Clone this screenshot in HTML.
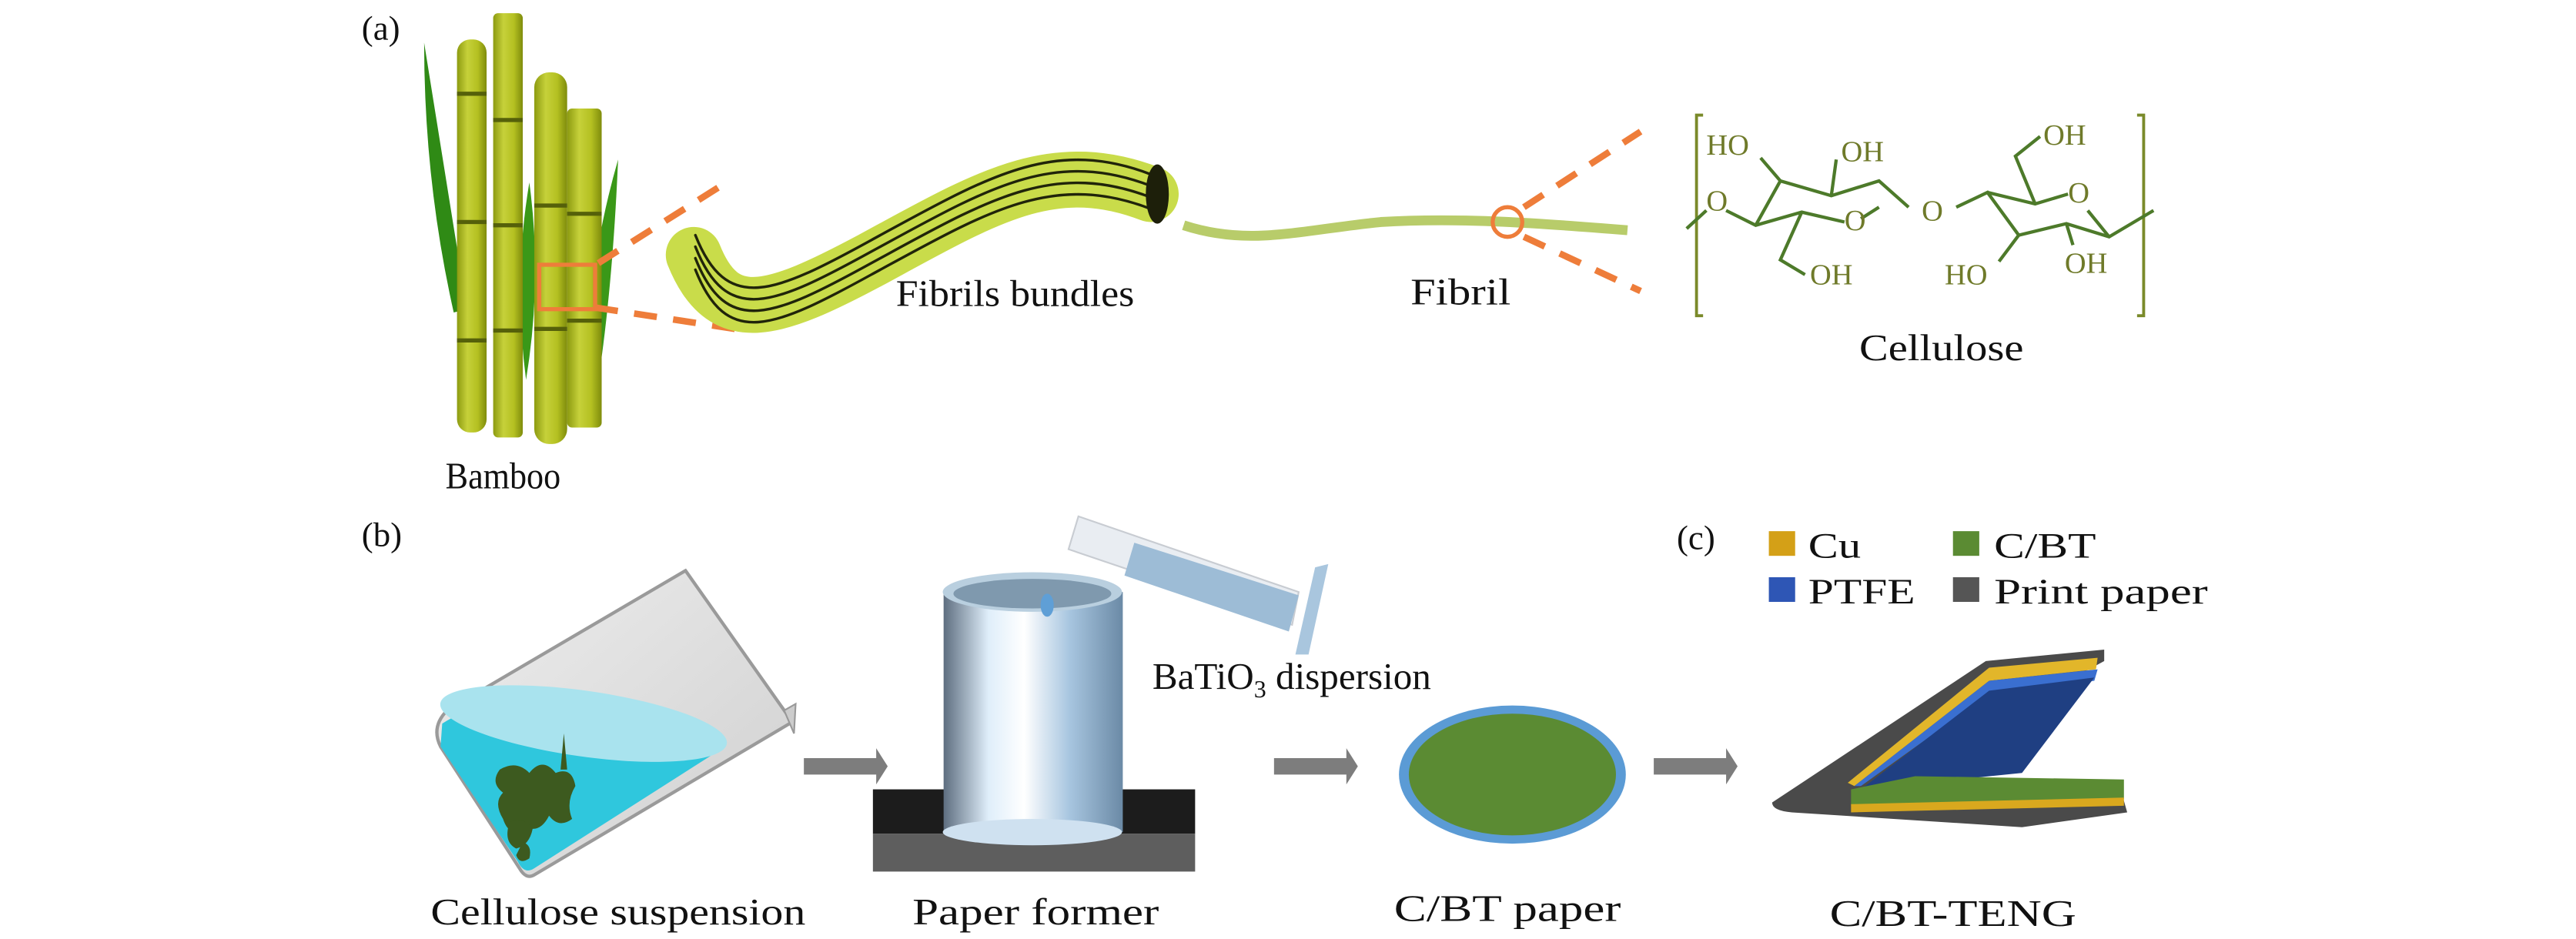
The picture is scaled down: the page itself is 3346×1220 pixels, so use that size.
<!DOCTYPE html>
<html><head><meta charset="utf-8"><style>
html,body{margin:0;padding:0;background:#fff;width:3346px;height:1220px;overflow:hidden}
svg{display:block}
text{font-family:"Liberation Serif",serif;fill:#111}
</style></head><body>
<svg width="3346" height="1220" viewBox="0 0 1567 571" preserveAspectRatio="none" xmlns="http://www.w3.org/2000/svg">
<defs>
<linearGradient id="stalk" x1="0" x2="1" y1="0" y2="0">
<stop offset="0" stop-color="#8c9a10"/><stop offset="0.35" stop-color="#c6d13a"/><stop offset="0.7" stop-color="#b4c021"/><stop offset="1" stop-color="#7f8c0c"/></linearGradient>
<linearGradient id="cyl" x1="0" x2="1"><stop offset="0" stop-color="#5e6e80"/><stop offset="0.25" stop-color="#dfeefa"/><stop offset="0.45" stop-color="#ffffff"/><stop offset="0.7" stop-color="#a8c6e0"/><stop offset="1" stop-color="#6b8aa6"/></linearGradient>
<linearGradient id="bk" x1="0" x2="1" y1="0" y2="1"><stop offset="0" stop-color="#eeeeee"/><stop offset="1" stop-color="#cfcfcf"/></linearGradient>
</defs>

<text x="220" y="24" font-size="21">(a)</text>
<path d="M258,26 L284,188 L276,190 Q258,110 258,26Z" fill="#2f8a15"/>
<path d="M376,97 Q372,190 360,255 Q352,180 376,97Z" fill="#3a9818"/>
<path d="M322,111 Q330,170 320,231 Q312,170 322,111Z" fill="#3a9818"/>
<rect x="278" y="24" width="18" height="239" rx="8" fill="url(#stalk)"/>
<rect x="300" y="8" width="18" height="258" rx="3" fill="url(#stalk)"/>
<rect x="325" y="44" width="20" height="226" rx="9" fill="url(#stalk)"/>
<rect x="345" y="66" width="21" height="194" rx="3" fill="url(#stalk)"/>
<g stroke="#55600a" stroke-width="2.5">
<line x1="278" y1="57" x2="296" y2="57"/><line x1="278" y1="135" x2="296" y2="135"/><line x1="278" y1="207" x2="296" y2="207"/>
<line x1="300" y1="73" x2="318" y2="73"/><line x1="300" y1="137" x2="318" y2="137"/><line x1="300" y1="201" x2="318" y2="201"/>
<line x1="325" y1="125" x2="345" y2="125"/><line x1="325" y1="200" x2="345" y2="200"/>
<line x1="345" y1="130" x2="366" y2="130"/><line x1="345" y1="195" x2="366" y2="195"/>
</g>
<rect x="328" y="161" width="34" height="27" fill="none" stroke="#ee7d3a" stroke-width="2.5"/>
<g stroke="#ee7d3a" stroke-width="4" stroke-dasharray="14,10" fill="none">
<path d="M364,160 L437,114"/><path d="M362,187 L447,200"/>
<path d="M927,126 L998,80"/><path d="M927,144 L998,177"/>
</g>
<g fill="none" stroke-linecap="round">
<path d="M422,155 C440,200 470,190 530,158 C600,120 640,95 700,118" stroke="#c9dc4a" stroke-width="34"/>
<path d="M423,150 C442,198 470,186 530,153 C600,115 640,90 700,113" stroke="#20240a" stroke-width="1.6"/>
<path d="M423,157 C442,205 470,193 530,160 C600,122 640,97 700,120" stroke="#20240a" stroke-width="1.6"/>
<path d="M423,164 C442,212 470,200 530,167 C600,129 640,104 700,127" stroke="#20240a" stroke-width="1.6"/>
<path d="M423,143 C442,191 470,179 530,146 C600,108 640,83 700,106" stroke="#20240a" stroke-width="1.6"/>
</g>
<ellipse cx="704" cy="118" rx="7" ry="18" fill="#1d1f0a"/>
<path d="M720,137 C760,150 790,140 840,135 C890,132 940,136 990,140" fill="none" stroke="#b8cc6a" stroke-width="6"/>
<circle cx="917" cy="135" r="9" fill="none" stroke="#ee7d3a" stroke-width="2.5"/>
<text x="545" y="186" font-size="23" textLength="145" lengthAdjust="spacingAndGlyphs">Fibrils bundles</text>
<text x="858" y="185" font-size="23" textLength="61" lengthAdjust="spacingAndGlyphs">Fibril</text>
<text x="271" y="297" font-size="23" textLength="70" lengthAdjust="spacingAndGlyphs">Bamboo</text>

<g fill="none" stroke="#7a8a2a" stroke-width="1.8">
<path d="M1036,70 L1032,70 L1032,192 L1036,192"/>
<path d="M1300,70 L1304,70 L1304,192 L1300,192"/>
</g>
<g fill="none" stroke="#4d7a2a" stroke-width="2">
<path d="M1026,139 L1038,128"/>
<path d="M1050,128 L1068,137 L1096,129 L1122,135"/>
<path d="M1068,137 L1083,110 L1114,119 L1143,110 L1161,126"/>
<path d="M1132,133 L1143,126"/>
<path d="M1083,110 L1071,96"/><path d="M1114,119 L1117,97"/>
<path d="M1096,129 L1083,158 L1098,167"/>
<path d="M1190,126 L1209,117 L1228,143 L1257,136 L1283,144 L1310,128"/>
<path d="M1209,117 L1238,124 L1258,118"/><path d="M1270,128 L1283,144"/>
<path d="M1238,124 L1226,95 L1241,83"/>
<path d="M1228,143 L1216,159"/><path d="M1257,136 L1261,149"/>
</g>
<g font-size="18">
<text x="1038" y="94" style="fill:#6f7a2a">HO</text>
<text x="1120" y="98" style="fill:#6f7a2a">OH</text>
<text x="1243" y="88" style="fill:#6f7a2a">OH</text>
<text x="1038" y="128" style="fill:#6f7a2a">O</text>
<text x="1122" y="140" style="fill:#6f7a2a">O</text>
<text x="1169" y="134" style="fill:#6f7a2a">O</text>
<text x="1258" y="123" style="fill:#6f7a2a">O</text>
<text x="1101" y="173" style="fill:#6f7a2a">OH</text>
<text x="1183" y="173" style="fill:#6f7a2a">HO</text>
<text x="1256" y="166" style="fill:#6f7a2a">OH</text>
</g>
<text x="1131" y="219" font-size="23" textLength="100" lengthAdjust="spacingAndGlyphs">Cellulose</text>

<text x="220" y="332" font-size="21">(b)</text>
<path d="M417,347 L482,439 L325,532 Q320,535 316,528 L268,454 Q262,442 272,432 Z" fill="url(#bk)" stroke="#9a9a9a" stroke-width="2"/>
<path d="M269,440 Q300,420 350,430 Q420,440 438,456 L325,528 Q319,532 315,524 L268,454 Z" fill="#2fc7dd"/>
<ellipse cx="355" cy="440" rx="88" ry="20" transform="rotate(8 355 440)" fill="#a9e3ee"/>
<path d="M477,432 L484,428 L483,446 Z" fill="#ccc" stroke="#999"/>
<g fill="#3d5a1f">
<path d="M304,468 q10,-6 18,2 q8,-10 16,0 q10,-4 12,8 q-6,10 -2,20 q-8,6 -14,-2 q-6,12 -16,6 q-8,8 -12,-4 q-6,-10 0,-16 q-8,-6 -2,-14z"/>
<path d="M310,500 q8,-4 14,4 q-2,10 -10,12 q-8,-4 -4,-16z"/>
<path d="M318,512 q6,2 4,10 q-6,4 -8,-2z"/>
<path d="M343,446 l2,22 l-4,0z"/>
</g>
<g fill="#7d7d7d">
<path d="M489,461 L533,461 L533,455 L540,466 L533,477 L533,471 L489,471Z"/>
<path d="M775,461 L819,461 L819,455 L826,466 L819,477 L819,471 L775,471Z"/>
<path d="M1006,461 L1050,461 L1050,455 L1057,466 L1050,477 L1050,471 L1006,471Z"/>
</g>
<rect x="531" y="480" width="196" height="27" fill="#1c1c1c"/>
<rect x="531" y="507" width="196" height="23" fill="#5e5e5e"/>
<rect x="574" y="360" width="109" height="146" fill="url(#cyl)"/>
<ellipse cx="628" cy="506" rx="54.5" ry="8" fill="#cfe1f0"/>
<ellipse cx="628" cy="360" rx="54.5" ry="12" fill="#b9cfdf"/>
<ellipse cx="628" cy="361" rx="48" ry="9" fill="#7f99ae"/>
<ellipse cx="637" cy="368" rx="4" ry="7" fill="#5f9fd6"/>
<path d="M656,314 L790,360 L786,380 L650,334 Z" fill="#e9edf2" stroke="#c8ccd2"/>
<path d="M690,330 L790,362 L784,384 L684,350 Z" fill="#9dbcd6"/>
<path d="M800,345 L808,343 L796,398 L788,398 Z" fill="#a9c6de"/>
<text x="701" y="419" font-size="23">BaTiO<tspan font-size="15" dy="5">3</tspan><tspan dy="-5"> dispersion</tspan></text>
<text x="262" y="562" font-size="23" textLength="228" lengthAdjust="spacingAndGlyphs">Cellulose suspension</text>
<text x="555" y="562" font-size="23" textLength="150" lengthAdjust="spacingAndGlyphs">Paper former</text>

<ellipse cx="920" cy="471" rx="69" ry="42" fill="#5b9bd5"/>
<ellipse cx="920" cy="471" rx="63" ry="37" fill="#5b8b33"/>
<text x="848" y="560" font-size="23" textLength="138" lengthAdjust="spacingAndGlyphs">C/BT paper</text>

<text x="1020" y="334" font-size="21">(c)</text>
<rect x="1076" y="323" width="16" height="15" fill="#d4a017"/>
<text x="1100" y="339" font-size="22" textLength="32" lengthAdjust="spacingAndGlyphs">Cu</text>
<rect x="1188" y="323" width="16" height="15" fill="#5b8b33"/>
<text x="1213" y="339" font-size="22" textLength="62" lengthAdjust="spacingAndGlyphs">C/BT</text>
<rect x="1076" y="351" width="16" height="15" fill="#2e56b5"/>
<text x="1100" y="367" font-size="22" textLength="65" lengthAdjust="spacingAndGlyphs">PTFE</text>
<rect x="1188" y="351" width="16" height="15" fill="#555"/>
<text x="1213" y="367" font-size="22" textLength="130" lengthAdjust="spacingAndGlyphs">Print paper</text>

<path d="M1078,488 L1208,402 L1280,395 L1280,402 L1140,478 L1290,480 L1294,494 L1230,503 L1090,494 Q1078,493 1078,488Z" fill="#4a4a4a"/>
<path d="M1210,406 L1276,400 L1275,407 L1210,414 L1128,478 L1124,476Z" fill="#e2b62a"/>
<path d="M1210,414 L1276,407 L1274,414 L1210,422 L1132,478 L1128,478Z" fill="#3a6fd0"/>
<path d="M1210,420 L1274,412 L1230,470 L1132,480Z" fill="#1f3f82"/>
<path d="M1126,480 L1165,472 L1292,474 L1292,486 L1126,490Z" fill="#5b8b33"/>
<path d="M1126,489 L1292,485 L1292,490 L1126,494Z" fill="#d9a81e"/>
<text x="1113" y="563" font-size="23" textLength="150" lengthAdjust="spacingAndGlyphs">C/BT-TENG</text>
</svg>
</body></html>
